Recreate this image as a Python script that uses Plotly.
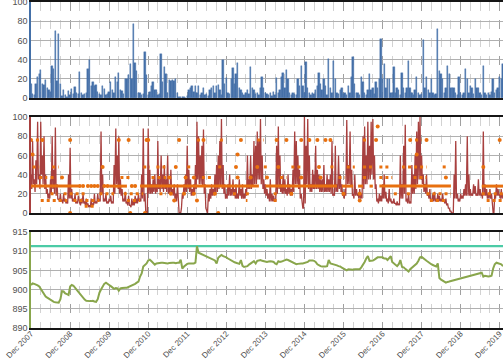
import datetime as dt
import plotly.graph_objects as go
from plotly.subplots import make_subplots

# ---------------- data (semi-monthly samples starting Dec 2007) ----------------
bar_values = [
    15, 4, 3, 15, 22, 25, 29, 15, 14, 19, 10, 8, 6, 33, 30, 70, 18, 67, 15, 2,
    8, 3, 1, 7, 3, 9, 4, 11, 5, 4, 27, 5, 3, 4, 5, 30, 40, 12, 17, 13,
    14, 6, 4, 3, 12, 9, 3, 4, 6, 17, 8, 5, 22, 17, 26, 8, 7, 4, 20, 20,
    24, 35, 20, 77, 36, 28, 5, 5, 3, 4, 48, 24, 3, 6, 12, 17, 8, 8, 3, 4,
    46, 17, 32, 25, 5, 19,
    18, 19, 18, 20, 5, 1, 1, 1, 1, 0,
    2, 8, 10, 12, 6, 12, 5, 12, 3, 5,
    10, 3, 4, 2, 8, 10, 12, 5, 12, 14,
    8, 3, 40, 15, 21, 5, 4, 20, 31, 15,
    25, 36, 10, 8, 5, 3, 5, 8, 4, 32,
    10, 8, 4, 5, 3, 10, 22, 10, 5, 4,
    3, 5, 2, 6, 3, 21, 5, 8, 22, 26,
    10, 29, 20, 5, 3, 5, 4, 3, 20, 12,
    33, 12, 5, 38, 10, 5, 3, 5, 4, 8,
    12, 26, 15, 8, 20, 12, 3, 41,
    10, 5, 39, 20, 5, 4, 8, 10, 4, 5,
    3, 12, 5, 22, 43, 15, 5, 5, 3, 22,
    17, 5, 3, 8, 25, 8, 10, 4, 17, 10,
    20, 61, 20, 35, 10, 20, 20, 5, 5, 32,
    5, 10, 8, 3, 26, 10, 5, 10, 39, 10,
    5, 3, 8, 22, 5, 3, 4, 60, 10, 22,
    8, 5, 20, 5, 3, 4, 72, 28, 25, 20,
    5, 10, 33, 25, 10, 10, 10, 5, 3, 22,
    5, 3, 5, 30, 20, 5, 12, 10, 4, 20,
    10, 10, 5, 3, 33, 5, 3, 5, 3, 6,
    20, 5, 8, 10, 22, 20, 35,
]

# red series: reading at the start of each half-month (upper strokes)
red_values = [
    40, 75, 35, 55, 95, 40, 95, 60, 80, 40,
    25, 20, 35, 80, 45, 89, 30, 15, 20, 14,
    20, 15, 12, 40, 68, 25, 15, 20, 12, 18,
    10, 15, 20, 12, 15, 10, 8, 15, 10, 20,
    12, 20, 15, 85, 40, 15, 20, 12, 15, 18,
    12, 50, 88, 60, 80, 35, 25, 15, 22, 12,
    18, 8, 15, 12, 18, 15, 20, 15, 40, 88,
    20, 0, 88, 45, 30, 35, 40, 30, 75, 35,
    60, 40, 50, 35, 60, 30,
    45, 25, 30, 20, 30, 0, 0, 20, 30, 40,
    70, 45, 35, 25, 30, 50, 95, 80, 60, 70,
    87, 30, 0, 20, 25, 30, 25, 40, 50, 60,
    75, 98, 50, 30, 20, 30, 40, 25, 35, 25,
    30, 20, 35, 25, 30, 20, 25, 60, 35, 60,
    40, 75, 70, 85, 75, 98, 60, 35, 30, 25,
    20, 35, 20, 18, 15, 70, 90, 60, 30, 40,
    35, 25, 40, 30, 25, 45, 85, 75, 60, 45,
    20, 5, 100, 70, 98, 60, 30, 45, 40, 70,
    45, 40, 35, 35, 50, 30, 40, 35,
    40, 75, 20, 70, 30, 60, 40, 30, 20, 25,
    97, 50, 85, 45, 20, 40, 25, 20, 25, 20,
    80, 90, 60, 95, 70, 95, 98, 60, 30, 15,
    20, 18, 30, 40, 22, 15, 25, 15, 12, 15,
    10, 12, 10, 60, 30, 70, 92, 15, 20, 12,
    50, 40, 60, 85, 95, 100, 60, 40, 30, 40,
    20, 25, 15, 20, 22, 15, 20, 18, 15, 20,
    12, 15, 10, 5, 2, 0, 40, 75, 20, 15,
    20, 18, 25, 30, 80, 40, 25, 20, 30, 28,
    20, 35, 25, 20, 85, 30, 25, 20, 25, 20,
    0, 20, 30, 25, 20, 25, 20,
]

# red series: reading one week later in each half-month (lower strokes)
red_lows = [
    25, 30, 22, 30, 35, 25, 40, 30, 25, 20,
    15, 15, 20, 25, 20, 18, 14, 12, 12, 10,
    12, 10, 10, 15, 15, 12, 12, 10, 10, 10,
    8, 10, 10, 8, 8, 6, 6, 8, 8, 10,
    10, 12, 12, 20, 12, 12, 10, 10, 12, 10,
    10, 20, 30, 25, 20, 18, 12, 12, 10, 8,
    8, 6, 8, 8, 10, 10, 12, 12, 15, 12,
    2, 0, 20, 20, 20, 22, 20, 22, 25, 22,
    25, 22, 25, 22, 20, 20,
    20, 18, 15, 12, 5, 0, 5, 15, 20, 22,
    25, 22, 18, 18, 20, 25, 35, 30, 30, 28,
    20, 5, 0, 12, 15, 18, 18, 20, 22, 25,
    28, 25, 20, 15, 15, 18, 18, 18, 18, 15,
    15, 15, 18, 15, 15, 15, 18, 25, 25, 25,
    28, 30, 30, 35, 35, 30, 25, 20, 18, 15,
    12, 12, 12, 12, 12, 20, 25, 22, 20, 20,
    20, 18, 20, 18, 18, 22, 30, 30, 25, 15,
    8, 5, 10, 30, 25, 22, 22, 25, 25, 25,
    25, 22, 22, 22, 22, 22, 22, 22,
    20, 18, 18, 22, 22, 25, 22, 18, 15, 18,
    30, 30, 28, 18, 15, 18, 18, 15, 15, 15,
    25, 30, 30, 35, 35, 40, 35, 25, 12, 10,
    12, 12, 15, 15, 12, 10, 12, 10, 10, 10,
    8, 8, 8, 15, 15, 20, 12, 10, 10, 10,
    20, 20, 25, 30, 35, 35, 30, 22, 20, 18,
    15, 12, 12, 12, 12, 12, 12, 12, 12, 12,
    10, 8, 5, 2, 0, 0, 15, 15, 12, 12,
    15, 15, 18, 18, 18, 18, 18, 18, 20, 18,
    18, 18, 18, 15, 18, 18, 15, 15, 15, 10,
    0, 15, 18, 18, 15, 15, 15,
]

green_values = [
    901.2, 901.6, 901.5, 901.4, 901.1, 900.8, 900.2, 899.3, 898.7, 898.2,
    897.9, 897.6, 897.2, 897.0, 896.8, 896.7, 896.6, 896.6, 897.5, 899.6,
    899.5, 899.0, 898.8, 898.6, 900.8, 901.2, 901.0, 900.3, 899.9, 899.4,
    898.9, 898.4, 897.8, 897.4, 897.1, 897.0, 897.0, 897.0, 897.1, 896.9,
    896.8, 897.5, 899.2, 900.0, 900.9, 901.5, 901.8, 901.6, 901.2, 900.9,
    900.5, 900.2, 900.4, 900.3, 899.7, 900.3, 900.4, 900.5, 900.5, 900.5,
    900.7, 900.9, 901.0, 901.2, 901.5, 901.8, 902.1, 903.4, 904.2, 906.0,
    906.5, 906.8, 907.6, 907.8, 907.4, 906.8, 906.5, 906.8, 906.9, 907.0,
    907.0, 907.0, 906.9, 906.8, 906.8, 906.9, 907.0, 907.0, 907.0, 906.9,
    907.0, 907.0, 907.8, 905.5, 906.0, 906.5, 906.7, 906.8, 906.8, 906.8,
    906.8, 907.0, 911.3, 909.6, 909.4, 909.2, 909.0, 908.7, 908.5, 908.4,
    908.3, 908.0, 907.8, 907.6, 906.8, 908.3, 908.7, 909.0, 908.7, 908.6,
    908.4, 908.1, 907.8, 907.5, 907.2, 907.1, 907.0, 906.9, 906.7, 907.7,
    906.2, 905.9, 906.0, 906.1, 906.5, 906.8, 907.2, 907.4, 906.8, 907.5,
    907.6, 907.7, 907.5, 907.4, 907.3, 907.2, 907.3, 907.4, 907.3, 907.2,
    906.8, 906.6, 907.4, 907.2, 907.3, 907.5, 907.6, 907.8, 907.7, 907.5,
    907.2, 906.9, 906.8, 906.6, 906.7, 906.8, 906.8, 906.8, 906.9, 907.0,
    907.2, 907.6, 907.7, 907.6, 907.5, 907.2, 906.6, 906.3, 906.1, 906.0,
    905.9, 906.0, 906.1, 907.7, 906.8, 906.7, 906.6, 906.4, 906.3, 906.1,
    906.0, 905.7, 905.4, 905.1, 905.0, 905.3, 905.2, 905.1, 905.2, 905.3,
    905.3, 905.3, 905.3, 905.8, 906.4, 907.2, 908.1, 908.7, 907.5, 907.5,
    907.6, 907.8, 908.1, 908.4, 908.4, 908.4, 908.4, 908.1, 908.1, 907.7,
    908.1, 908.7, 907.2, 906.8, 906.4, 906.1, 906.6, 907.7, 905.9, 905.8,
    905.4, 905.0, 904.7, 905.3, 905.7, 906.0, 906.6, 906.8, 907.5, 908.4,
    908.5, 908.1, 907.8, 907.5, 907.2, 906.8, 906.6, 906.4, 906.2, 906.0,
    906.8, 903.0, 902.6, 902.3, 902.1, 901.8, 902.0, 902.1, None, None,
    None, None, None, None, None, None, None, None, None, None,
    None, None, None, None, None, None, None, 904.4, 903.4, 903.6,
    903.5, 903.4, 903.5, 903.6, 905.5, 906.6, 907.0, 906.8, 906.7, 906.6,
    906.1,
]

teal_level = 911.3

# orange: main continuous level segments
main_level = 28
main_start = ["2007-12-01", "2009-12-01", "2010-09-16", "2013-12-01", "2015-11-16",
              "2016-04-16", "2016-08-01", "2016-11-01", "2019-06-16"]
main_end = ["2009-02-16", "2010-05-16", "2013-10-01", "2015-10-01", "2016-03-01",
            "2016-06-01", "2016-09-01", "2018-09-01", "2020-01-01"]

# orange: secondary level runs
run_levels = [13, 13, 13, 13, 13, 13, 13,
              20, 20, 20, 20, 20, 20, 20, 20, 20, 20, 20, 20,
              48, 48, 48, 48, 48, 48, 48, 48, 48, 48, 48, 48, 48, 48,
              37, 37, 37, 37, 37, 37, 37, 37, 37, 37,
              76, 76, 76, 76, 76, 76, 7]
run_start = ["2008-03-01", "2009-01-01", "2010-05-16", "2013-06-01", "2014-02-16", "2018-02-16", "2019-08-01",
             "2008-06-01", "2008-10-01", "2009-09-01", "2010-04-16", "2011-03-16", "2013-02-01",
             "2013-06-01", "2014-02-16", "2017-03-16", "2017-07-16", "2018-01-16", "2019-06-16",
             "2007-12-16", "2008-06-16", "2010-10-16", "2011-02-16", "2011-12-01", "2012-09-16",
             "2013-11-16", "2014-08-01", "2015-08-01", "2016-01-01", "2016-06-01", "2016-11-01",
             "2017-06-01", "2018-06-16",
             "2008-02-16", "2008-06-01", "2010-03-16", "2011-01-01", "2012-04-16", "2014-04-16",
             "2015-10-16", "2016-06-01", "2016-11-01", "2017-09-16",
             "2008-01-16", "2012-03-01", "2012-10-01", "2013-09-16", "2016-06-01", "2017-10-01",
             "2009-04-16"]
run_end = ["2008-11-01", "2009-09-01", "2010-09-16", "2013-06-16", "2014-03-16", "2018-07-16", "2020-01-01",
           "2008-08-01", "2009-05-01", "2010-01-16", "2010-10-16", "2011-05-16", "2013-03-01",
           "2013-07-01", "2014-03-16", "2017-04-16", "2017-08-16", "2018-09-01", "2020-01-01",
           "2008-02-16", "2008-08-16", "2010-12-16", "2011-05-16", "2012-01-01", "2012-11-01",
           "2014-01-01", "2014-11-01", "2015-09-16", "2016-03-16", "2016-09-01", "2017-02-16",
           "2018-01-16", "2018-08-01",
           "2008-05-01", "2008-07-16", "2010-06-16", "2011-05-16", "2012-08-01", "2014-06-16",
           "2015-12-16", "2016-07-16", "2017-03-01", "2018-01-16",
           "2008-02-16", "2012-04-16", "2012-11-16", "2013-11-16", "2016-07-16", "2017-12-01",
           "2009-08-01"]

# orange: isolated readings
single_dates = ["2007-12-01", "2007-12-16", "2008-03-16", "2008-12-01", "2008-12-01", "2008-09-16",
                "2009-03-01", "2009-04-01", "2009-05-16", "2009-06-16", "2009-07-16", "2009-08-16",
                "2009-10-16", "2009-11-16", "2009-10-01",
                "2010-03-01", "2010-06-01", "2010-06-16", "2010-07-01", "2010-08-01", "2010-11-01",
                "2010-11-16", "2010-12-01",
                "2011-06-16", "2011-07-01", "2011-08-01", "2011-08-16", "2011-09-16", "2011-11-01",
                "2011-11-16",
                "2012-02-01", "2012-02-01", "2012-03-01", "2012-05-01", "2012-08-16", "2012-09-16",
                "2013-03-01", "2013-03-16", "2013-03-16", "2013-04-16", "2013-07-16", "2013-09-16",
                "2013-12-16",
                "2014-03-16", "2014-04-01", "2014-06-16", "2014-08-01", "2014-11-01", "2014-11-01",
                "2015-01-16", "2015-04-01", "2015-04-16", "2015-05-01", "2015-06-16", "2015-08-01",
                "2015-12-01",
                "2016-05-01", "2016-05-01", "2016-10-01", "2016-10-16",
                "2017-08-16", "2017-10-16", "2018-01-16", "2018-07-16", "2019-07-01", "2019-12-01"]
single_levels = [76, 61, 76, 76, 0, 37,
                 28, 28, 28, 28, 28, 28,
                 28, 28, 48,
                 76, 76, 0, 28, 28, 0,
                 76, 76,
                 37, 20, 13, 48, 76, 20,
                 37,
                 37, 20, 13, 76, 20, 0,
                 48, 61, 37, 76, 37, 48,
                 37,
                 76, 48, 76, 20, 76, 37,
                 76, 76, 48, 37, 76, 76,
                 20,
                 20, 13, 76, 90,
                 76, 61, 76, 37, 48, 76]

tick_labels = ["Dec 2007", "Dec 2008", "Dec 2009", "Dec 2010", "Dec 2011", "Dec 2012", "Dec 2013",
               "Dec 2014", "Dec 2015", "Dec 2016", "Dec 2017", "Dec 2018", "Dec 2019"]
tick_dates = ["2007-12-01", "2008-12-01", "2009-12-01", "2010-12-01", "2011-12-01", "2012-12-01",
              "2013-12-01", "2014-12-01", "2015-12-01", "2016-12-01", "2017-12-01", "2018-12-01",
              "2019-12-01"]


def semi_monthly(n):
    out = []
    y, m = 2007, 12
    for i in range(n):
        out.append(f"{y}-{m:02d}-{1 if i % 2 == 0 else 16:02d}")
        if i % 2 == 1:
            m += 1
            if m > 12:
                m = 1
                y += 1
    return out


def segments(starts, ends, levels):
    xs, ys = [], []
    for s, e, lv in zip(starts, ends, levels):
        xs += [s, e, None]
        ys += [lv, lv, None]
    return xs, ys


BLUE = "#4470A8"
RED = "#A8403F"
ORANGE = "#E8700F"
GREEN = "#89A64C"
TEAL = "#4CCBA6"

fig = make_subplots(rows=3, cols=1, shared_xaxes=True)

fig.add_trace(go.Bar(x=semi_monthly(len(bar_values)), y=bar_values, marker_color=BLUE,
                     marker_line_width=0.4, marker_line_color=BLUE), row=1, col=1)

# interleave the two red readings of each half-month
rdates = semi_monthly(len(red_values))
red_x, red_y = [], []
for d, hi, lo in zip(rdates, red_values, red_lows):
    d0 = dt.date.fromisoformat(d)
    red_x += [d0, d0 + dt.timedelta(days=7)]
    red_y += [hi, lo]
fig.add_trace(go.Scatter(x=red_x, y=red_y, mode="lines",
                         line=dict(color=RED, width=1.3)), row=2, col=1)
mx, my = segments(main_start, main_end, [main_level] * len(main_start))
fig.add_trace(go.Scatter(x=mx, y=my, mode="lines", line=dict(color=ORANGE, width=3)), row=2, col=1)
rx, ry = segments(run_start, run_end, run_levels)
fig.add_trace(go.Scatter(x=rx, y=ry, mode="lines", line=dict(color=ORANGE, width=3, dash="dot")),
              row=2, col=1)
fig.add_trace(go.Scatter(x=single_dates, y=single_levels, mode="markers",
                         marker=dict(color=ORANGE, size=4)), row=2, col=1)

gdates = semi_monthly(len(green_values))
fig.add_trace(go.Scatter(x=[gdates[0], "2020-01-10"], y=[teal_level, teal_level], mode="lines",
                         line=dict(color=TEAL, width=2.2)), row=3, col=1)
fig.add_trace(go.Scatter(x=gdates, y=green_values, mode="lines", connectgaps=True,
                         line=dict(color=GREEN, width=2)), row=3, col=1)

font = dict(family="Liberation Sans, Arial, sans-serif", size=9, color="#505050")
xfont = dict(family="Liberation Sans, Arial, sans-serif", size=8, color="#505050")

fig.update_layout(width=503, height=360, margin=dict(l=31, r=0, t=2, b=32),
                  plot_bgcolor="white", paper_bgcolor="white", showlegend=False,
                  bargap=0, font=font)

for r in (1, 2, 3):
    fig.update_xaxes(row=r, col=1, type="date", range=["2007-12-01", "2020-01-01"],
                     tickmode="array", tickvals=tick_dates, ticktext=tick_labels,
                     tickangle=-45, ticks="", showgrid=True, gridcolor="#a0a0a0",
                     griddash="dash", gridwidth=1,
                     minor=dict(tickmode="linear", tick0="2007-12-01", dtick="M3",
                                showgrid=True, gridcolor="#d2d2d2", gridwidth=1),
                     showline=True, linecolor="#151515", linewidth=2, mirror=True,
                     tickfont=xfont, automargin=False, ticklabeloverflow="allow",
                     ticklabelstandoff=-4)

fig.update_yaxes(row=1, col=1, range=[0, 100], dtick=20, domain=[0.7055, 1.0],
                 linecolor=BLUE)
fig.update_yaxes(row=2, col=1, range=[0, 100], dtick=20, domain=[0.3528, 0.6472],
                 linecolor=RED)
fig.update_yaxes(row=3, col=1, range=[890, 915], dtick=5, domain=[0.0, 0.2945],
                 linecolor=GREEN)
fig.update_yaxes(showgrid=True, gridcolor="#b0b0b0", gridwidth=1, zeroline=False,
                 showline=True, linewidth=1.5, ticks="", tickfont=font, automargin=False,
                 ticklabeloverflow="allow")

fig.write_html("out.html", config={"displayModeBar": False},
               post_script="document.body.style.margin='0px';document.body.style.overflow='hidden';")
